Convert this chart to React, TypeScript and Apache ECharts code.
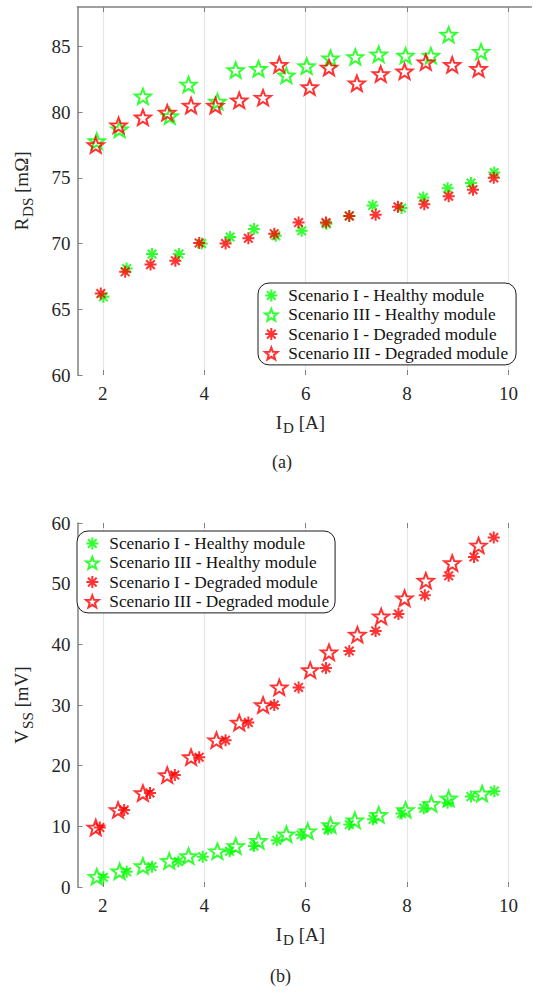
import React, { useEffect, useRef } from "react";
import * as echarts from "echarts";

// ---------- data ----------
const xTickValues = [2, 4, 6, 8, 10];
const legendNames = [
  "Scenario I - Healthy module",
  "Scenario III - Healthy module",
  "Scenario I - Degraded module",
  "Scenario III - Degraded module",
];

// (a) R_DS [mΩ] vs I_D [A]
const rdsScenario1Healthy = [
  [2.01, 65.95], [2.47, 68.1], [2.97, 69.2], [3.5, 69.2], [3.95, 70.0], [4.51, 70.5],
  [4.98, 71.1], [5.41, 70.6], [5.92, 70.97], [6.41, 71.5], [6.86, 72.1], [7.32, 72.9],
  [7.89, 72.7], [8.32, 73.5], [8.8, 74.2], [9.26, 74.6], [9.72, 75.4],
];
const rdsScenario3Healthy = [
  [1.88, 77.8], [2.33, 78.7], [2.79, 81.2], [3.32, 79.7], [3.69, 82.1], [4.26, 80.8],
  [4.62, 83.2], [5.07, 83.3], [5.62, 82.8], [6.02, 83.5], [6.49, 84.1], [6.98, 84.2],
  [7.44, 84.4], [7.97, 84.3], [8.47, 84.3], [8.82, 85.9], [9.46, 84.6],
];
const rdsScenario1Degraded = [
  [1.96, 66.2], [2.44, 67.85], [2.94, 68.4], [3.43, 68.7], [3.9, 70.05], [4.42, 70.0],
  [4.87, 70.4], [5.38, 70.75], [5.86, 71.6], [6.4, 71.6], [6.86, 72.1], [7.38, 72.2],
  [7.82, 72.8], [8.34, 73.0], [8.82, 73.6], [9.3, 74.1], [9.71, 75.0],
];
const rdsScenario3Degraded = [
  [1.86, 77.5], [2.31, 79.0], [2.79, 79.6], [3.27, 79.96], [3.74, 80.5], [4.22, 80.5],
  [4.69, 80.9], [5.16, 81.1], [5.48, 83.6], [6.08, 81.9], [6.46, 83.4], [7.01, 82.2],
  [7.48, 82.9], [7.95, 83.1], [8.37, 83.8], [8.89, 83.6], [9.41, 83.3],
];

// (b) V_SS [mV] vs I_D [A]
const vssScenario1Healthy = [
  [2.01, 1.6], [2.47, 2.5], [2.97, 3.35], [3.49, 4.2], [3.97, 5.0], [4.5, 5.9],
  [4.98, 6.75], [5.43, 7.7], [5.91, 8.6], [6.44, 9.5], [6.86, 10.3], [7.33, 11.15],
  [7.89, 12.1], [8.33, 13.0], [8.8, 13.9], [9.26, 14.9], [9.72, 15.8],
];
const vssScenario3Healthy = [
  [1.88, 1.7], [2.33, 2.6], [2.79, 3.46], [3.31, 4.3], [3.69, 5.1], [4.26, 5.9],
  [4.62, 6.75], [5.07, 7.6], [5.62, 8.7], [6.04, 9.2], [6.49, 10.2], [6.97, 11.0],
  [7.44, 11.9], [7.97, 12.7], [8.48, 13.7], [8.82, 14.6], [9.48, 15.4],
];
const vssScenario1Degraded = [
  [1.94, 9.8], [2.42, 12.7], [2.93, 15.5], [3.42, 18.45], [3.9, 21.4], [4.42, 24.2],
  [4.87, 27.1], [5.38, 30.0], [5.86, 32.9], [6.4, 36.1], [6.86, 38.9], [7.38, 42.2],
  [7.83, 45.0], [8.35, 48.1], [8.82, 51.3], [9.32, 54.4], [9.71, 57.6],
];
const vssScenario3Degraded = [
  [1.86, 9.8], [2.3, 12.7], [2.79, 15.5], [3.27, 18.45], [3.74, 21.4], [4.24, 24.2],
  [4.69, 27.1], [5.16, 30.0], [5.48, 32.9], [6.09, 35.75], [6.46, 38.7], [7.02, 41.6],
  [7.49, 44.6], [7.95, 47.6], [8.37, 50.5], [8.89, 53.4], [9.41, 56.3],
];

// ---------- styling ----------
const GREEN = "#00ff00";
const RED = "#ff0000";
const FONT = "'Liberation Serif', 'Times New Roman', 'DejaVu Serif', serif";
const TXT = "#262626";
const AXIS_GRAY = "#808080";

function starPath(): string {
  const pts: string[] = [];
  for (let i = 0; i < 10; i++) {
    const r = i % 2 === 0 ? 1 : 0.42;
    const a = (-90 + i * 36) * (Math.PI / 180);
    pts.push(`${(r * Math.cos(a)).toFixed(4)} ${(r * Math.sin(a)).toFixed(4)}`);
  }
  return "path://M" + pts.join(" L") + " Z";
}
const STAR = starPath();
const AST =
  "path://M0 -1 L0 1 M-1 0 L1 0 M-0.72 -0.72 L0.72 0.72 M-0.72 0.72 L0.72 -0.72";

const markerStyle = [
  { symbol: AST, color: GREEN, size: 12 },
  { symbol: STAR, color: GREEN, size: 16 },
  { symbol: AST, color: RED, size: 12 },
  { symbol: STAR, color: RED, size: 16 },
];

function itemStyleFor(i: number) {
  return {
    color: "rgba(0,0,0,0)",
    borderColor: markerStyle[i].color,
    borderWidth: 2,
  };
}

function scatter(i: number, data: number[][], axisIdx: number) {
  return {
    type: "scatter",
    name: legendNames[i],
    xAxisIndex: axisIdx === 0 ? 0 : 2,
    yAxisIndex: axisIdx,
    data,
    symbol: markerStyle[i].symbol,
    symbolSize: markerStyle[i].size,
    symbolKeepAspect: true,
    itemStyle: itemStyleFor(i),
    emphasis: { disabled: true },
  };
}

function legendCfg(left: number, top: number, padding: number[]) {
  return {
    orient: "vertical",
    left,
    top,
    padding,
    itemWidth: 24,
    itemHeight: 12,
    itemGap: 2.3,
    borderColor: "#1a1a1a",
    borderWidth: 1,
    borderRadius: 11,
    backgroundColor: "#ffffff",
    selectedMode: false,
    textStyle: { fontFamily: FONT, fontSize: 17.3, color: "#111" },
    data: legendNames.map((n, i) => ({
      name: n,
      icon: markerStyle[i].symbol,
      itemStyle: itemStyleFor(i),
    })),
  };
}

const subRich = {
  m: { fontFamily: FONT, fontSize: 19, color: TXT, lineHeight: 20 },
  s: { fontFamily: FONT, fontSize: 15, color: TXT, lineHeight: 16, padding: [12, 0, 0, 1] },
};

function bottomXAxis(gridIndex: number) {
  return {
    type: "value",
    gridIndex,
    position: "bottom",
    min: 1.5,
    max: 10.45,
    name: "{m|I}{s|D}{m| [A]}",
    nameLocation: "middle",
    nameGap: 37,
    nameTextStyle: { rich: subRich, padding: [0, 8, 0, 0] },
    axisLine: { show: false },
    axisTick: { show: true, inside: true, length: 5, customValues: xTickValues, lineStyle: { color: AXIS_GRAY } },
    axisLabel: {
      customValues: xTickValues,
      fontFamily: FONT,
      fontSize: 19,
      color: TXT,
      margin: 9,
    },
    splitLine: { show: true, lineStyle: { color: "#e6e6e6", width: 1.2 } },
  };
}

function topXAxis(gridIndex: number, showLine: boolean) {
  return {
    type: "value",
    gridIndex,
    position: "top",
    min: 1.5,
    max: 10.45,
    axisLine: { show: showLine, lineStyle: { color: AXIS_GRAY, width: 1.5 } },
    axisTick: { show: true, inside: true, length: 5, customValues: xTickValues, lineStyle: { color: AXIS_GRAY } },
    axisLabel: { show: false },
    splitLine: { show: false },
  };
}

function yAxisCfg(gridIndex: number, min: number, max: number, interval: number, name: string) {
  return {
    type: "value",
    gridIndex,
    min,
    max,
    interval,
    name,
    nameLocation: "middle",
    nameGap: 46,
    nameTextStyle: { rich: subRich },
    axisLine: { show: true, lineStyle: { color: AXIS_GRAY, width: 1.5 } },
    axisTick: { show: true, inside: true, length: 5, lineStyle: { color: AXIS_GRAY } },
    axisLabel: {
      fontFamily: FONT,
      fontSize: 19,
      color: TXT,
      margin: 7,
      showMaxLabel: max % interval === 0,
    },
    splitLine: { show: false },
  };
}

export default function App() {
  const ref = useRef<HTMLDivElement>(null);
  useEffect(() => {
    if (!ref.current) return;
    const chart = echarts.init(ref.current, undefined, { renderer: "svg" });
    chart.setOption({
      animation: false,
      backgroundColor: "#ffffff",
      textStyle: { fontFamily: FONT },
      grid: [
        { left: 67, top: 7, width: 464.3, height: 368 },
        { left: 67, top: 523, width: 464.3, height: 364 },
      ],
      xAxis: [bottomXAxis(0), topXAxis(0, true), bottomXAxis(1), topXAxis(1, false)],
      yAxis: [
        yAxisCfg(0, 60, 88, 5, "{m|R}{s|DS}{m| [mΩ]}"),
        yAxisCfg(1, 0, 60, 10, "{m|V}{s|SS}{m| [mV]}"),
      ],
      legend: [legendCfg(258, 283, [4, 8, 3, 6]), legendCfg(77, 531, [4, 6, 3, 8])],
      series: [
        scatter(0, rdsScenario1Healthy, 0),
        scatter(1, rdsScenario3Healthy, 0),
        scatter(2, rdsScenario1Degraded, 0),
        scatter(3, rdsScenario3Degraded, 0),
        scatter(0, vssScenario1Healthy, 1),
        scatter(1, vssScenario3Healthy, 1),
        scatter(2, vssScenario1Degraded, 1),
        scatter(3, vssScenario3Degraded, 1),
      ],
      graphic: [
        {
          type: "text",
          left: 272,
          top: 453,
          style: { text: "(a)", fontFamily: FONT, fontSize: 18, fill: TXT },
        },
        {
          type: "text",
          left: 270,
          top: 967,
          style: { text: "(b)", fontFamily: FONT, fontSize: 18, fill: TXT },
        },
      ],
    });
    return () => chart.dispose();
  }, []);
  return (
    <div
      ref={ref}
      style={{ position: "absolute", left: 0, top: 0, width: 533, height: 992 }}
    />
  );
}
